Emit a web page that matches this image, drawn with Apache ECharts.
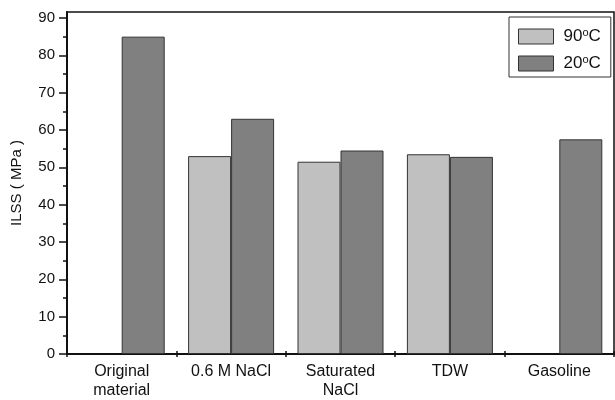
<!DOCTYPE html>
<html>
<head>
<meta charset="utf-8">
<script src="https://cdn.jsdelivr.net/npm/echarts@6/dist/echarts.min.js"></script>
<style>html,body{margin:0;padding:0;background:#fff}#c{width:615px;height:400px}</style>
</head>
<body>
<div id="c"></div>
<script>
const categories = ['Original\nmaterial', '0.6 M NaCl', 'Saturated\nNaCl', 'TDW', 'Gasoline'];
const seriesNames = ['90°C', '20°C'];
const values90 = [null, 53, 51.5, 53.5, null];
const values20 = [85, 63, 54.5, 52.8, 57.5];
const yMajorTicks = [0, 10, 20, 30, 40, 50, 60, 70, 80, 90];
const yMinorTicks = [5, 15, 25, 35, 45, 55, 65, 75, 85];

const chart = echarts.init(document.getElementById('c'), null, {renderer: 'canvas'});
const FONT = 'Liberation Sans, Arial, sans-serif';
const yMax = 91.6;
const option = {
  animation: false,
  backgroundColor: '#fff',
  grid: {left: 67, right: 1, top: 12, bottom: 46, show: true, borderColor: '#111', borderWidth: 1.5, backgroundColor: 'transparent'},
  legend: {
    orient: 'vertical', left: 509, top: 17,
    padding: [10, 10, 4, 9],
    icon: 'rect',
    itemWidth: 35, itemHeight: 15, itemGap: 8,
    borderColor: '#333', borderWidth: 1,
    backgroundColor: '#fff',
    data: seriesNames,
    itemStyle: {borderColor: '#333', borderWidth: 1},
    formatter: function (n) { return '{m|' + n.replace('°C', '}{s|o}{m|C}'); },
    textStyle: {
      fontFamily: FONT, fontSize: 17, color: '#111', padding: [0, 0, 0, 5], lineHeight: 19,
      rich: {
        m: {fontFamily: FONT, fontSize: 17, color: '#111', lineHeight: 19},
        s: {fontFamily: FONT, fontSize: 11, color: '#111', lineHeight: 11, padding: [0, 0, 8, 0]}
      }
    }
  },
  xAxis: [{
    type: 'category', data: categories, position: 'bottom',
    axisLine: {lineStyle: {color: '#111', width: 2}},
    axisTick: {show: true, inside: false, length: 3, alignWithLabel: false, lineStyle: {color: '#111', width: 1.5}},
    axisLabel: {fontFamily: FONT, fontSize: 16, color: '#111', margin: 8, lineHeight: 19, interval: 0}
  }, {
    type: 'category', data: categories, position: 'bottom',
    axisLine: {show: false},
    axisTick: {show: true, inside: true, length: 3, alignWithLabel: false, lineStyle: {color: '#111', width: 1.5}},
    axisLabel: {show: false}
  }],
  yAxis: [{
    type: 'value', min: 0, max: yMax, position: 'left',
    name: 'ILSS ( MPa )', nameLocation: 'middle', nameGap: 43, nameRotate: 90,
    nameTextStyle: {fontFamily: FONT, fontSize: 15, color: '#111'},
    axisLine: {show: true, lineStyle: {color: '#111', width: 2}},
    axisTick: {show: true, length: 8, customValues: yMajorTicks, lineStyle: {color: '#111', width: 1.5}},
    axisLabel: {fontFamily: FONT, fontSize: 15, color: '#111', margin: 12, customValues: yMajorTicks},
    splitLine: {show: false}
  }, {
    type: 'value', min: 0, max: yMax, position: 'left',
    axisLine: {show: false},
    axisTick: {show: true, length: 4, customValues: yMinorTicks, lineStyle: {color: '#111', width: 1.5}},
    axisLabel: {show: false},
    splitLine: {show: false}
  }],
  series: [{
    name: seriesNames[0], type: 'bar', data: values90, barWidth: 43, barGap: '0%',
    itemStyle: {color: '#c0c0c0', borderColor: '#333', borderWidth: 1}
  }, {
    name: seriesNames[1], type: 'bar', data: values20, barWidth: 43, barGap: '0%',
    itemStyle: {color: '#808080', borderColor: '#333', borderWidth: 1}
  }]
};
chart.setOption(option);
</script>
</body>
</html>
